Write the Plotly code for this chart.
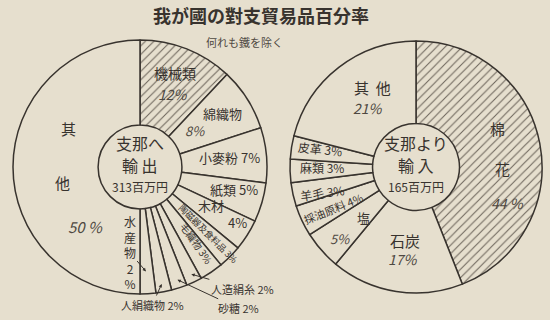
import math
import plotly.graph_objects as go

# ---- data -------------------------------------------------------------
export_items = ["機械類", "綿織物", "小麥粉", "紙類", "木材", "陶磁器及食料品",
                "毛織物", "人造絹糸", "砂糖", "人絹織物", "水産物", "其他"]
export_pct = [12, 8, 7, 5, 4, 3, 3, 2, 2, 2, 2, 50]
export_total = "313百万円"

import_items = ["棉花", "石炭", "塩", "採油原料", "羊毛", "麻類", "皮革", "其他"]
import_pct = [44, 17, 5, 4, 3, 3, 3, 21]
import_total = "165百万円"

title_text = "我が國の對支貿易品百分率"
subtitle_text = "何れも鐵を除く"

# ---- styling ------------------------------------------------------------
W, H = 550, 320
BG = "#e6dfce"
INK = "#38332e"
SOFT = "#4e4841"
FONT = "Noto Sans CJK JP"

left_domain = dict(x=[13 / W, 267 / W], y=[1 - 294 / H, 1 - 40 / H])
right_domain = dict(x=[290 / W, 542 / W], y=[1 - 293 / H, 1 - 41 / H])


def geom(dom):
    """Pixel centre and radius of a pie drawn in the given domain."""
    cx = (dom["x"][0] + dom["x"][1]) / 2 * W
    cy = (1 - (dom["y"][0] + dom["y"][1]) / 2) * H
    r = min((dom["x"][1] - dom["x"][0]) * W, (dom["y"][1] - dom["y"][0]) * H) / 2
    return cx, cy, r


def mid_angles(vals):
    """Clockwise angle from 12 o'clock of each slice's middle."""
    tot = sum(vals)
    out, acc = [], 0.0
    for v in vals:
        out.append((acc + v / 2) / tot * 360)
        acc += v
    return out


def polar(dom, ang, frac):
    cx, cy, r = geom(dom)
    a = math.radians(ang)
    return cx + frac * r * math.sin(a), cy - frac * r * math.cos(a)


def to_paper(px, py):
    return px / W, 1 - py / H


def pie(labels, vals, dom, hatched, hole):
    return go.Pie(
        labels=labels, values=vals, sort=False, direction="clockwise",
        rotation=0, hole=hole, domain=dom, textinfo="none",
        hoverinfo="label+percent", showlegend=False,
        marker=dict(
            colors=[BG] * len(vals),
            line=dict(color=INK, width=1.5),
            pattern=dict(
                shape=["/" if i == hatched else "" for i in range(len(vals))],
                fgcolor="#6f675d", bgcolor=BG, size=6, solidity=0.18,
            ),
        ),
    )


fig = go.Figure()
fig.add_trace(pie(export_items, export_pct, left_domain, 0, 0.33))
fig.add_trace(pie(import_items, import_pct, right_domain, 0, 0.345))

ann = []


def text_at(px, py, text, size, color=INK, angle=0):
    x, y = to_paper(px, py)
    ann.append(dict(x=x, y=y, xref="paper", yref="paper", text=text,
                    xanchor="center", yanchor="middle",
                    showarrow=False, textangle=angle,
                    font=dict(family=FONT, size=size, color=color)))


def put(dom, ang, frac, text, size=14, color=INK, angle=0):
    px, py = polar(dom, ang, frac)
    text_at(px, py, text, size, color, angle)


def pct(v):
    return f"<i>{v}%</i>"


def arrow_label(dom, ang, frac, ax, ay, text, size=11):
    px, py = polar(dom, ang, frac)
    x, y = to_paper(px, py)
    ann.append(dict(x=x, y=y, xref="paper", yref="paper", text=text,
                    showarrow=True, ax=ax, ay=ay, arrowhead=2, arrowsize=0.7,
                    arrowwidth=1, arrowcolor=INK, standoff=1,
                    font=dict(family=FONT, size=size, color=INK)))


# ---- left pie: exports -------------------------------------------------
lm = mid_angles(export_pct)
L = left_domain
put(L, lm[0] - 1.2, 0.79, export_items[0], 14)
put(L, lm[0] + 2.7, 0.63, pct(export_pct[0]), 14, SOFT)
put(L, lm[1] - 0.5, 0.77, export_items[1], 13)
put(L, lm[1] - 1.6, 0.52, pct(export_pct[1]), 13, SOFT)
put(L, lm[2] - 0.9, 0.71, f"{export_items[2]} {export_pct[2]}%", 13)
put(L, lm[3] - 2.6, 0.76, f"{export_items[3]} {export_pct[3]}%", 13)
put(L, lm[4] - 4.0, 0.64, export_items[4], 13)
put(L, lm[4] - 2.8, 0.88, f"{export_pct[4]}%", 13)
put(L, lm[5] - 0.5, 0.75, f"{export_items[5]} {export_pct[5]}%", 9, INK, 45)
put(L, lm[6] - 2.5, 0.75, f"{export_items[6]} {export_pct[6]}%", 10, INK, 55)
# "其他" spread down the large slice
put(L, lm[11] + 28.5, 0.64, export_items[11][0], 15)
put(L, lm[11] - 11.7, 0.62, export_items[11][1], 15)
put(L, lm[11] - 47.5, 0.64, f"<i>{export_pct[11]} %</i>", 15, SOFT)

# narrow 2% slices: labels outside with arrows
arrow_label(L, lm[7], 0.93, 52, 15, f"{export_items[7]} {export_pct[7]}%")
arrow_label(L, lm[8], 0.93, 62, 29, f"{export_items[8]} {export_pct[8]}%")
arrow_label(L, lm[9], 0.93, -10, 22, f"{export_items[9]} {export_pct[9]}%")
arrow_label(L, lm[10], 0.83, -17, -20,
            "<br>".join(list(export_items[10])) + f"<br>{export_pct[10]}<br>%",
            12)

# ---- right pie: imports ------------------------------------------------
rm = mid_angles(import_pct)
Rd = right_domain
put(Rd, rm[0] - 14.6, 0.72, import_items[0][0], 15)
put(Rd, rm[0] + 11.5, 0.69, import_items[0][1], 15)
put(Rd, rm[0] + 32.4, 0.78, f"<i>{import_pct[0]} %</i>", 14, SOFT)
put(Rd, rm[1] - 0.4, 0.59, import_items[1], 15)
put(Rd, rm[1] - 0.9, 0.74, pct(import_pct[1]), 14, SOFT)
put(Rd, rm[2] - 2.5, 0.58, import_items[2], 13)
put(Rd, rm[2] - 1.7, 0.83, pct(import_pct[2]), 13, SOFT)
put(Rd, rm[3] - 1.6, 0.73, f"{import_items[3]} {import_pct[3]}%", 11, INK, -22)
put(Rd, rm[4] - 2.4, 0.77, f"{import_items[4]} {import_pct[4]}%", 12, INK, -8)
put(Rd, rm[5] + 1.2, 0.75, f"{import_items[5]} {import_pct[5]}%", 12)
put(Rd, rm[6] + 2.0, 0.78, f"{import_items[6]} {import_pct[6]}%", 12, INK, 6)
put(Rd, rm[7] + 9.5, 0.72, "  ".join(list(import_items[7])), 15)
put(Rd, rm[7] - 1.3, 0.60, pct(import_pct[7]), 14, SOFT)

# ---- centre captions ---------------------------------------------------
for dom, head, body, total in [(L, "支那へ", "輸 出", export_total),
                               (Rd, "支那より", "輸 入", import_total)]:
    cx, cy, r = geom(dom)
    text_at(cx, cy - 24, head, 16)
    text_at(cx, cy - 2, body, 16)
    text_at(cx, cy + 19, total, 12)

# ---- titles --------------------------------------------------------------
text_at(261, 15, f"<b>{title_text}</b>", 18)
text_at(244, 42, subtitle_text, 11, SOFT)

fig.update_layout(
    width=W, height=H, margin=dict(l=0, r=0, t=0, b=0),
    paper_bgcolor=BG, plot_bgcolor=BG, annotations=ann,
)
fig.write_html("out.html")
